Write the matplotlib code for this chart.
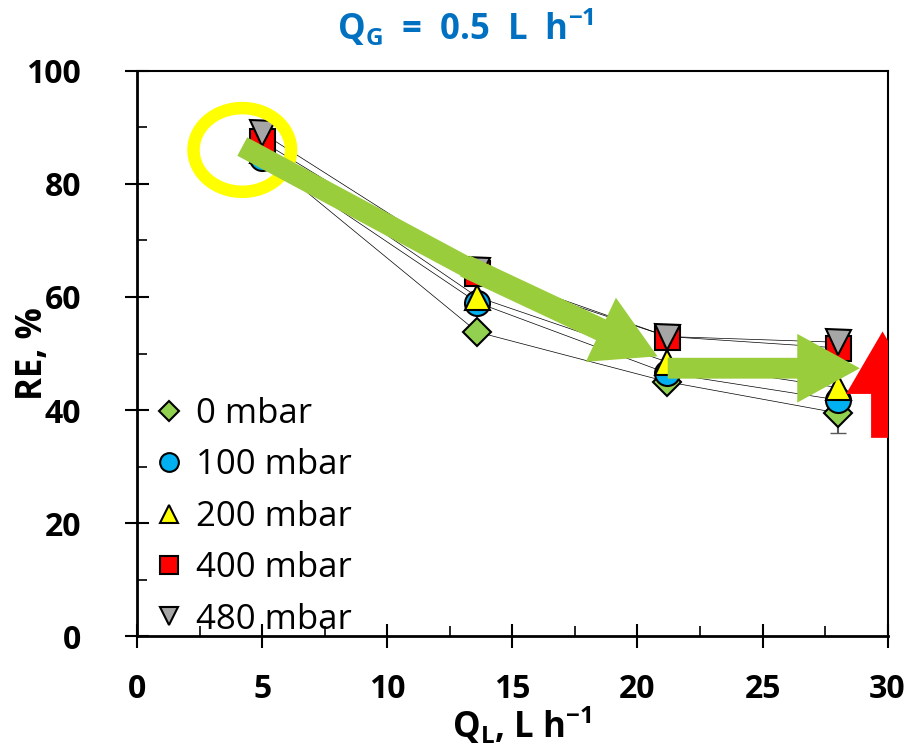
import matplotlib
matplotlib.use("Agg")
import matplotlib.pyplot as plt
from matplotlib.patches import FancyArrowPatch, Ellipse
import numpy as np

plt.rcParams['font.family'] = ['Open Sans', 'DejaVu Sans']
plt.rcParams['mathtext.fontset'] = 'custom'
plt.rcParams['mathtext.rm'] = 'Open Sans:bold'
plt.rcParams['mathtext.bf'] = 'Open Sans:bold'
plt.rcParams['mathtext.it'] = 'Open Sans:bold'
plt.rcParams['mathtext.default'] = 'bf'

# ---- data ----
ql = [5.0, 13.6, 21.2, 28.0]
re_0 = [85.0, 53.8, 45.0, 39.5]
re_100 = [84.6, 59.0, 46.5, 41.8]
re_200 = [86.0, 60.0, 48.5, 44.0]
re_400 = [87.5, 64.2, 53.0, 51.0]
re_480 = [89.0, 64.8, 53.0, 52.0]
err_0 = [0.0, 0.0, 0.0, 3.5]
labels = ['0 mbar', '100 mbar', '200 mbar', '400 mbar', '480 mbar']
xticks = [0, 5, 10, 15, 20, 25, 30]
yticks = [0, 20, 40, 60, 80, 100]

fig = plt.figure(figsize=(9.15, 7.53), dpi=100)
ax = fig.add_axes([0.150, 0.155, 0.820, 0.751])

series = [re_0, re_100, re_200, re_400, re_480]
markers = ['D', 'o', '^', 's', 'v']
colors = ['#92D050', '#00B0F0', '#FFFF00', '#FF0000', '#A6A6A6']
msizes = [14, 18, 18, 18, 18]
for vals, m, c, ms, lab in zip(series, markers, colors, msizes, labels):
    ax.plot(ql, vals, color='black', lw=0.5, zorder=2)
    ax.plot(ql, vals, linestyle='none', marker=m, markersize=ms,
            markerfacecolor=c, markeredgecolor='black', markeredgewidth=1.5,
            zorder=3, label=lab)
ax.errorbar(ql, re_0, yerr=[err_0, [0, 0, 0, 0]], fmt='none', ecolor='#595959',
            elinewidth=1.5, capsize=6, zorder=1)

# annotations
ell = Ellipse((4.2, 86.0), 3.9, 14.8, fill=False, edgecolor='#FFFF00', lw=9, zorder=4)
ax.add_patch(ell)
ax.plot([4.2, 13.3], [86.6, 65.0], color='#9ACD3C', lw=15, solid_capstyle='butt', zorder=5)
a1 = FancyArrowPatch((13.0, 65.7), (20.9, 49.3),
                     arrowstyle='simple,head_width=3.4,head_length=3.0,tail_width=1.1',
                     mutation_scale=15, color='#9ACD3C', lw=0, zorder=5)
ax.add_patch(a1)
a2 = FancyArrowPatch((21.1, 47.4), (29.0, 47.4),
                     arrowstyle='simple,head_width=3.3,head_length=3.0,tail_width=1.0',
                     mutation_scale=15, color='#9ACD3C', lw=0, zorder=5)
ax.add_patch(a2)
a3 = FancyArrowPatch((29.8, 34.6), (29.8, 54.4),
                     arrowstyle='simple,head_width=3.5,head_length=3.0,tail_width=1.1',
                     mutation_scale=15, color='#FF0000', lw=0, zorder=5)
ax.add_patch(a3)

ax.set_xlim(0, 30)
ax.set_ylim(0, 100)
ax.set_xticks(xticks)
ax.set_yticks(yticks)
ax.set_xticks(np.arange(0, 30.1, 2.5), minor=True)
ax.set_yticks(np.arange(0, 100.1, 10), minor=True)
ax.tick_params(axis='both', which='major', direction='inout', length=17, width=1.5,
               labelsize=23)
ax.tick_params(axis='x', which='major', pad=18)
ax.tick_params(axis='y', which='major', pad=32)
ax.tick_params(axis='both', which='minor', direction='in', length=7, width=1.2)
for lab in ax.get_xticklabels() + ax.get_yticklabels():
    lab.set_fontweight('bold')
for s in ['left', 'bottom']:
    ax.spines[s].set_linewidth(2)
for s in ['top', 'right']:
    ax.spines[s].set_linewidth(1.5)

ax.set_xlabel(r'Q$_{L}$, L h$^{-1}$', fontsize=25, fontweight='bold')
ax.xaxis.set_label_coords(0.513, -0.122)
ax.set_ylabel('RE, %', fontsize=25, fontweight='bold')
ax.yaxis.set_label_coords(-0.115, 0.5)
fig.text(466 / 915, 1 - 28 / 753, r'Q$_{G}$  =  0.5  L  h$^{-1}$', fontsize=25,
         fontweight='bold', color='#0070C0', ha='center', va='center')

leg = ax.legend(loc='lower left', bbox_to_anchor=(0.0, -0.025), frameon=False,
                fontsize=25, handletextpad=0.3, labelspacing=0.5, markerscale=0.75,
                handlelength=1.0, borderaxespad=0.0, borderpad=0.4)

fig.savefig('out.png', dpi=100)
